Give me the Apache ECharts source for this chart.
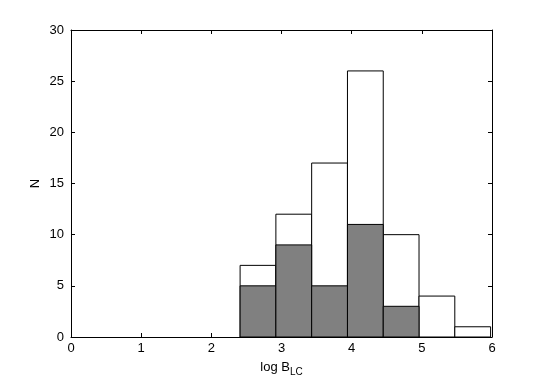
<!DOCTYPE html>
<html>
<head>
<meta charset="utf-8">
<script src="https://cdn.jsdelivr.net/npm/echarts@6/dist/echarts.min.js"></script>
<style>
    html, body { margin: 0; padding: 0; background: #fff; }
    #chart { width: 545px; height: 382px; }
</style>
</head>
<body>
<div id="chart"></div>
<script>
    // histogram bins (log B_LC), width ~0.51
    const binEdges = [2.41, 2.92, 3.43, 3.94, 4.45, 4.96, 5.47, 5.98];
    const totalCounts = [7, 12, 17, 26, 10, 4, 1];
    const subsetCounts = [5, 9, 5, 11, 3, 0, 0];
    const xTicks = [0, 1, 2, 3, 4, 5, 6];
    const yTicks = [0, 5, 10, 15, 20, 25, 30];

    const font = 'Liberation Sans, Arial, sans-serif';
    const axisLine = { show: true, onZero: false, lineStyle: { color: '#000', width: 1 } };
    const tick = { show: true, inside: true, length: 4, lineStyle: { color: '#000' } };

    const toRows = (counts) => counts.map((c, i) => [binEdges[i], binEdges[i + 1], c]);

    function barRender(fill) {
        return function (params, api) {
            if (api.value(2) <= 0) return null;
            const p0 = api.coord([api.value(0), api.value(2)]);
            const p1 = api.coord([api.value(1), 0]);
            return {
                type: 'rect',
                shape: { x: p0[0], y: p0[1], width: p1[0] - p0[0], height: p1[1] - p0[1] },
                style: { fill: fill, stroke: '#000', lineWidth: 1 }
            };
        };
    }

    const myChart = echarts.init(document.getElementById('chart'));
    const option = {
        animation: false,
        backgroundColor: '#fff',
        textStyle: { fontFamily: font },
        grid: { left: 71, right: 53, top: 30, bottom: 42.5 },
        xAxis: [{
            type: 'value', min: 0, max: 6, interval: 1,
            axisLine: axisLine, axisTick: tick, splitLine: { show: false },
            axisLabel: { color: '#000', fontSize: 13, margin: 5, fontFamily: font,
                customValues: xTicks },
            name: '{a|log B}{s|LC}', nameLocation: 'middle', nameGap: 21,
            nameMoveOverlap: false,
            nameTextStyle: {
                color: '#000', fontFamily: font,
                rich: {
                    a: { fontSize: 13, fontFamily: font, color: '#000' },
                    s: { fontSize: 10, fontFamily: font, color: '#000', padding: [9, 0, 0, 0] }
                }
            }
        }, {
            type: 'value', min: 0, max: 6, interval: 1, position: 'top',
            axisLine: axisLine, axisTick: tick, axisLabel: { show: false }, splitLine: { show: false }
        }],
        yAxis: [{
            type: 'value', min: 0, max: 30, interval: 5,
            axisLine: axisLine, axisTick: tick, splitLine: { show: false },
            axisLabel: { color: '#000', fontSize: 13, margin: 7, fontFamily: font,
                customValues: yTicks },
            name: 'N', nameLocation: 'middle', nameGap: 29,
            nameMoveOverlap: false,
            nameTextStyle: { color: '#000', fontSize: 13, fontFamily: font }
        }, {
            type: 'value', min: 0, max: 30, interval: 5, position: 'right',
            axisLine: axisLine, axisTick: tick, axisLabel: { show: false }, splitLine: { show: false }
        }],
        series: [{
            name: 'all',
            type: 'custom',
            renderItem: barRender('#fff'),
            encode: { x: [0, 1], y: 2 },
            data: toRows(totalCounts),
            z: 2
        }, {
            name: 'subset',
            type: 'custom',
            renderItem: barRender('#808080'),
            encode: { x: [0, 1], y: 2 },
            data: toRows(subsetCounts),
            z: 3
        }]
    };
    myChart.setOption(option);
</script>
</body>
</html>
